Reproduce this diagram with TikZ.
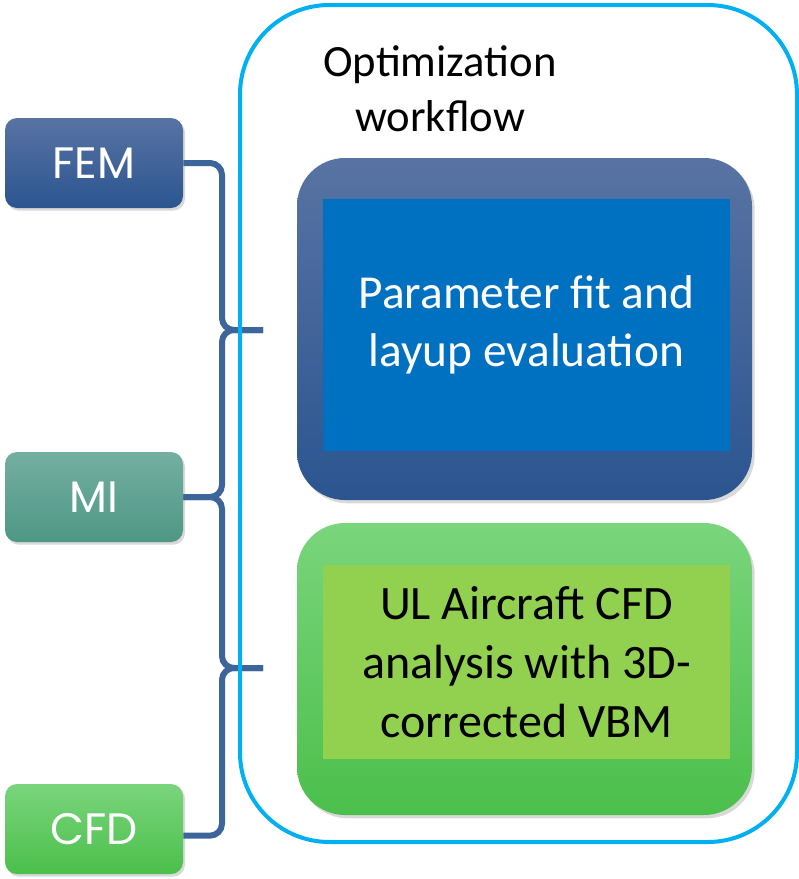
\documentclass[tikz,border=0pt]{standalone}
\usepackage{fontspec}
\setmainfont{Carlito}
\newfontfamily\srcfont{Poppins}
\usepackage{xcolor}
\usepackage{tikz}
\usetikzlibrary{positioning,shadows}
\definecolor{optcyan}{HTML}{00B0F0}
\definecolor{optbrace}{HTML}{3C6599}
\definecolor{femtop}{HTML}{5873A3}
\definecolor{fembot}{HTML}{2B5590}
\definecolor{mitop}{HTML}{74AFA2}
\definecolor{mibot}{HTML}{4E9785}
\definecolor{cfdtop}{HTML}{7AD57C}
\definecolor{cfdbot}{HTML}{4BBF4B}
\definecolor{fitblue}{HTML}{0070C0}
\definecolor{cfdlime}{HTML}{92D050}

\begin{document}
\begin{tikzpicture}[
    x=0.75pt,y=-0.75pt,
    src/.style   = {rectangle,rounded corners=9pt,minimum width=133.5pt,
                    minimum height=67.5pt,text=white,
                    font=\srcfont\fontsize{33}{40}\selectfont,
                    drop shadow={opacity=0.3,shadow xshift=1.5pt,shadow yshift=-2pt}},
    stage/.style = {rectangle,rounded corners=36pt,minimum width=341.25pt,
                    drop shadow={opacity=0.3,shadow xshift=2pt,shadow yshift=-2.5pt}},
    core/.style  = {rectangle,minimum width=305.25pt,align=center},
    brc/.style   = {draw=optbrace,line width=4.5pt,rounded corners=9pt},
  ]
  \useasboundingbox (0,0) rectangle (799,879);

  % input boxes
  \node[src,top color=femtop,bottom color=fembot] (fem) at (94,163) {FEM};
  \node[src,top color=mitop,bottom color=mibot]   (mi)  at (94,497) {MI};
  \node[src,top color=cfdtop,bottom color=cfdbot] (cfd) at (94,829) {CFD};

  % braces
  \coordinate (tipA) at (263,330);
  \coordinate (tipB) at (263,668);
  \draw[brc] (fem.east) -| (222,330) -- (tipA);
  \draw[brc] (mi.east)  -| (222,330) -- (tipA);
  \draw[brc] (mi.east)  -| (222,668) -- (tipB);
  \draw[brc] ([yshift=-5pt]cfd.east) -| (222,668) -- (tipB);

  % workflow frame
  \node[draw=optcyan,line width=3pt,rounded corners=67pt,
        minimum width=417.75pt,minimum height=627.75pt] (wf) at (518.5,423.5) {};
  \node[align=center,font=\fontsize{33.5}{41}\selectfont] (title) at (440,89)
       {Optimization\\workflow};

  \node[stage,minimum height=256.5pt,top color=femtop,bottom color=fembot]
       (fitbox) at (524.5,329) {};
  \node[core,minimum height=189pt,fill=fitblue,text=white,
        font=\fontsize{35.5}{43}\selectfont] (fit) at (526.5,325)
       {Parameter fit and\\layup evaluation};

  \node[stage,minimum height=219pt,top color=cfdtop,bottom color=cfdbot]
       (cfdbox) at (524.5,669) {};
  \node[core,minimum height=145.5pt,fill=cfdlime,text=black,
        font=\fontsize{36}{44}\selectfont] (ana) at (526.5,662)
       {UL Aircraft CFD\\analysis with 3D-\\corrected VBM};

\end{tikzpicture}
\end{document}
